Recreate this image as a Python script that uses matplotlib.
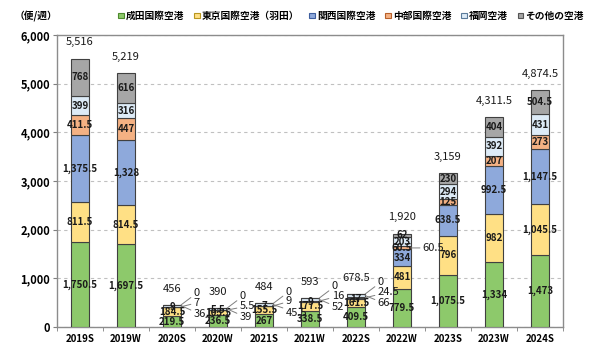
import matplotlib
matplotlib.use("Agg")
import matplotlib.pyplot as plt
from matplotlib.patches import Patch
import numpy as np

plt.rcParams['font.family'] = ['Noto Sans CJK JP', 'DejaVu Sans']

categories = ["2019S", "2019W", "2020S", "2020W", "2021S", "2021W", "2022S",
              "2022W", "2023S", "2023W", "2024S"]
series_names = ["成田国際空港", "東京国際空港（羽田）", "関西国際空港", "中部国際空港",
                "福岡空港", "その他の空港"]
narita = [1750.5, 1697.5, 219.5, 236.5, 267, 338.5, 409.5, 779.5, 1075.5, 1334, 1473]
haneda = [811.5, 814.5, 184.5, 103.5, 155.5, 177.5, 161.5, 481, 796, 982, 1045.5]
kansai = [1375.5, 1328, 9, 5.5, 7, 9, 17, 334, 638.5, 992.5, 1147.5]
chubu = [411.5, 447, 7, 5.5, 9, 16, 24.5, 60.5, 125, 207, 273]
fukuoka = [399, 316, 36, 39, 45.5, 52, 66, 203, 294, 392, 431]
others = [768, 616, 0, 0, 0, 0, 0, 62, 230, 404, 504.5]
y_ticks = [0, 1000, 2000, 3000, 4000, 5000, 6000]

series = [narita, haneda, kansai, chubu, fukuoka, others]
colors = ["#8DC96B", "#FFE085", "#8EA9DB", "#F4B183", "#DDEBF7", "#A6A6A6"]
edge_legend = ["#4E8A2E", "#B8961F", "#3E5E9E", "#B8602A", "#5A7A9A", "#555555"]

def fmt(v):
    if float(v).is_integer():
        return f"{int(v):,}"
    return f"{v:,.1f}"

fig = plt.figure(figsize=(5.9, 3.57), dpi=100)
ax = fig.add_axes([57/590, 30/357, 506/590, 292/357])

x = np.arange(len(categories))
width = 0.40
bottom = np.zeros(len(categories))
for vals, c in zip(series, colors):
    ax.bar(x, vals, width, bottom=bottom, color=c, edgecolor="#404040",
           linewidth=0.8, zorder=3)
    bottom = bottom + np.array(vals)
totals = bottom

# inside labels
small = totals < 1000
stack = np.zeros(len(categories))
for si, vals in enumerate(series):
    for i, v in enumerate(vals):
        mid = stack[i] + v / 2
        if (not small[i]) or si <= 2:
            ax.text(x[i], mid, fmt(v), ha="center", va="center", fontsize=7,
                    fontweight="bold", color="#1a1a1a", zorder=5)
    stack = stack + np.array(vals)

# callouts for tiny segments
for i in range(len(categories)):
    if not small[i]:
        continue
    top = totals[i]
    base_ch = narita[i] + haneda[i] + kansai[i]
    segs = [(others[i], top, top + 240),
            (chubu[i], base_ch + chubu[i] / 2, top + 40),
            (fukuoka[i], base_ch + chubu[i] + fukuoka[i] / 2, top - 190)]
    for v, yseg, ylab in segs:
        ax.annotate(fmt(v), xy=(x[i] + width / 2, yseg), xytext=(x[i] + 0.47, ylab),
                    fontsize=8, va="center", ha="left", color="#1a1a1a",
                    arrowprops=dict(arrowstyle="-", color="#7f7f7f", lw=0.7,
                                    shrinkA=0, shrinkB=0), zorder=6)

# 2022W chubu callout
i = 7
yseg = narita[i] + haneda[i] + kansai[i] + chubu[i] / 2
ax.annotate(fmt(chubu[i]), xy=(x[i] + width / 2, yseg), xytext=(x[i] + 0.45, yseg),
            fontsize=8, va="center", ha="left", color="#1a1a1a",
            arrowprops=dict(arrowstyle="-", color="#7f7f7f", lw=0.7, shrinkA=0, shrinkB=0))

# totals
for i, t in enumerate(totals):
    ax.annotate(fmt(t), xy=(x[i], t), xytext=(0, 8), textcoords="offset points",
                ha="center", va="bottom", fontsize=8, color="#1a1a1a")

ax.set_xlim(-0.5, len(categories) - 0.5)
ax.set_ylim(0, 6000)
ax.set_yticks(y_ticks)
ax.set_yticklabels([f"{v:,}" for v in y_ticks], fontsize=8, fontweight="bold")
ax.set_xticks(x)
ax.set_xticklabels(categories, fontsize=7, fontweight="bold")
ax.set_xticks(np.arange(-0.5, len(categories)), minor=True)
ax.tick_params(axis="x", which="major", length=0, pad=5)
ax.tick_params(axis="x", which="minor", length=3, color="#7f7f7f", direction="out")
ax.tick_params(axis="y", length=3, color="#7f7f7f", pad=2)
ax.yaxis.grid(True, linestyle=(0, (3, 3)), color="#c0c0c0", linewidth=0.8, zorder=0)
ax.set_axisbelow(True)
for s in ax.spines.values():
    s.set_color("#8c8c8c")
    s.set_linewidth(1.0)

fig.text(15/590, 1 - 16/357, "（便/週）", fontsize=7, fontweight="bold", va="center", ha="left")

handles = [Patch(facecolor=c, edgecolor=e, linewidth=0.8) for c, e in zip(colors, edge_legend)]
fig.legend(handles, series_names, loc="center right", bbox_to_anchor=(584/590, 1 - 16/357),
           ncol=6, frameon=False, handlelength=0.55, handleheight=0.55,
           handletextpad=0.25, columnspacing=1.0, borderaxespad=0, borderpad=0,
           prop={"weight": "bold", "size": 7.0})

fig.savefig("out.png", dpi=100)
